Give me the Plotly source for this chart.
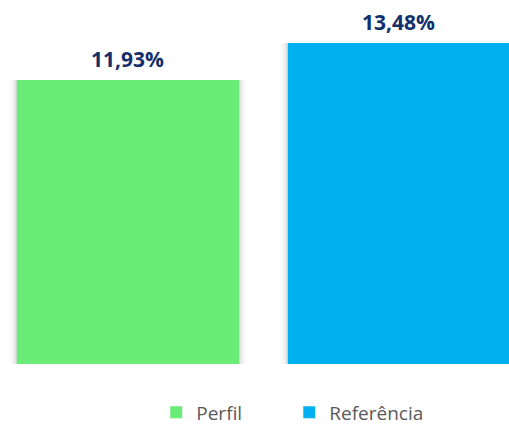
import plotly.graph_objects as go

series = ["Perfil", "Referência"]
values = [11.93, 13.48]
labels = ["11,93%", "13,48%"]
colors = ["#69EC78", "#00B0F0"]

fig = go.Figure()

# soft shadow behind the bars
for w, a in [(0.88, 0.012), (0.865, 0.018), (0.852, 0.025), (0.84, 0.035), (0.83, 0.05)]:
    fig.add_trace(go.Bar(
        x=list(range(len(values))), y=values, width=w,
        marker=dict(color=f"rgba(0,0,0,{a})", line=dict(width=0)),
        showlegend=False, hoverinfo="skip",
    ))

for i, (name, v, c) in enumerate(zip(series, values, colors)):
    fig.add_trace(go.Bar(
        x=[i], y=[v], name=name, width=0.82,
        marker=dict(color=c, line=dict(width=0)),
        hoverinfo="skip",
    ))

for i, (v, lab) in enumerate(zip(values, labels)):
    fig.add_annotation(
        x=i, y=v, text="<b>" + lab + "</b>", showarrow=False,
        yanchor="bottom", yshift=5,
        font=dict(family="Open Sans", size=21, color="#132F6B"),
    )

fig.update_layout(
    width=509, height=431,
    margin=dict(l=0, r=0, t=0, b=67),
    plot_bgcolor="white", paper_bgcolor="white",
    barmode="overlay",
    showlegend=True,
    legend=dict(orientation="h", x=0.307, xanchor="left",
                yref="container", y=0.043, yanchor="middle",
                font=dict(family="Open Sans", size=19, color="#595959"),
                entrywidth=88, entrywidthmode="pixels", traceorder="normal"),
    xaxis=dict(range=[-0.472, 1.406], visible=False, fixedrange=True),
    yaxis=dict(range=[0, 15.29], visible=False, fixedrange=True),
)
fig.write_html("out.html", config={"displayModeBar": False},
               post_script="document.body.style.margin='0';")
